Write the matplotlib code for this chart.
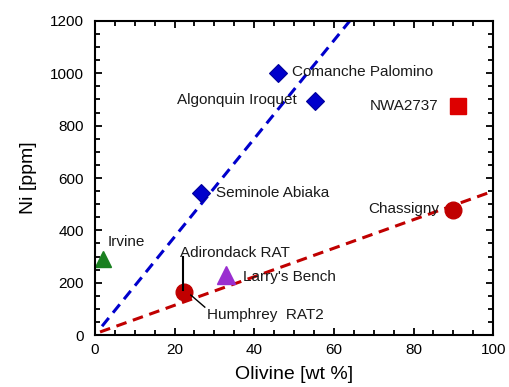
import matplotlib.pyplot as plt
from matplotlib.ticker import MultipleLocator

plt.rcParams['font.family'] = ['Liberation Sans', 'DejaVu Sans']

# data
diamond_x = [46, 55.3, 26.6]
diamond_y = [1000, 893, 543]
chass_x = [90]
chass_y = [478]
humph_x = [22.4]
humph_y = [164]
nwa_x = [91.2]
nwa_y = [875]
irvine_x = [2]
irvine_y = [290]
larry_x = [33]
larry_y = [229]

# trend lines (end points)
blue_x = [1.8, 64]
blue_y = [34, 1200]
red_x = [1.3, 100]
red_y = [12, 550]

labels = ['Comanche Palomino', 'Algonquin Iroquet', 'Seminole Abiaka', 'NWA2737',
          'Chassigny', 'Irvine', 'Adirondack RAT', "Larry's Bench", 'Humphrey  RAT2']
label_x = [49.5, 20.6, 30.4, 69.1, 68.6, 3.3, 21.4, 37.3, 28.1]
label_y = [1003, 898, 543, 875, 481, 354, 312, 223, 76]

fig = plt.figure(figsize=(5.1, 3.87), dpi=100)
ax = fig.add_axes([0.186, 0.134, 0.781, 0.812])

ax.plot(blue_x, blue_y, color='#0000cc', lw=2.2, dashes=(3.5, 2.2))
ax.plot(red_x, red_y, color='#c00000', lw=2.2, dashes=(3.5, 2.2))

ax.plot(diamond_x, diamond_y, 'D', color='#0000cc', ms=9.5, mec='#00009a', mew=0.8)
ax.plot(chass_x, chass_y, 'o', color='#c00000', ms=12, mec='#c00000')
ax.plot(humph_x, humph_y, 'o', color='#c00000', ms=12, mec='#c00000')
ax.plot(nwa_x, nwa_y, 's', color='#dd0000', ms=11.5, mec='#dd0000')
ax.plot(irvine_x, irvine_y, '^', color='#1a8020', ms=12, mec='#1a8020')
ax.plot(larry_x, larry_y, '^', color='#9a2ed0', ms=13, mec='#9a2ed0')

# pointer lines to the shared circle
ax.plot([22.1, 22.1], [299, 172], color='black', lw=1.5)
ax.plot([24.1, 27.6], [153, 107], color='black', lw=1.0)

for t, x, y in zip(labels, label_x, label_y):
    ax.text(x, y, t, fontsize=11, va='center', ha='left', color='#1a1a1a')

ax.set_xlim(0, 100)
ax.set_ylim(0, 1200)
ax.xaxis.set_major_locator(MultipleLocator(20))
ax.xaxis.set_minor_locator(MultipleLocator(5))
ax.yaxis.set_major_locator(MultipleLocator(200))
ax.yaxis.set_minor_locator(MultipleLocator(50))
ax.tick_params(which='both', direction='in', top=True, right=True, width=1.3, labelsize=11)
ax.tick_params(which='major', length=5)
ax.tick_params(axis='y', which='major', pad=8)
ax.tick_params(axis='x', which='major', pad=6)
ax.tick_params(which='minor', length=3.5)
for s in ax.spines.values():
    s.set_linewidth(1.5)

ax.set_xlabel('Olivine [wt %]', fontsize=14, labelpad=6)
ax.set_ylabel('Ni [ppm]', fontsize=14, labelpad=9)

fig.savefig('out.png', dpi=100)
